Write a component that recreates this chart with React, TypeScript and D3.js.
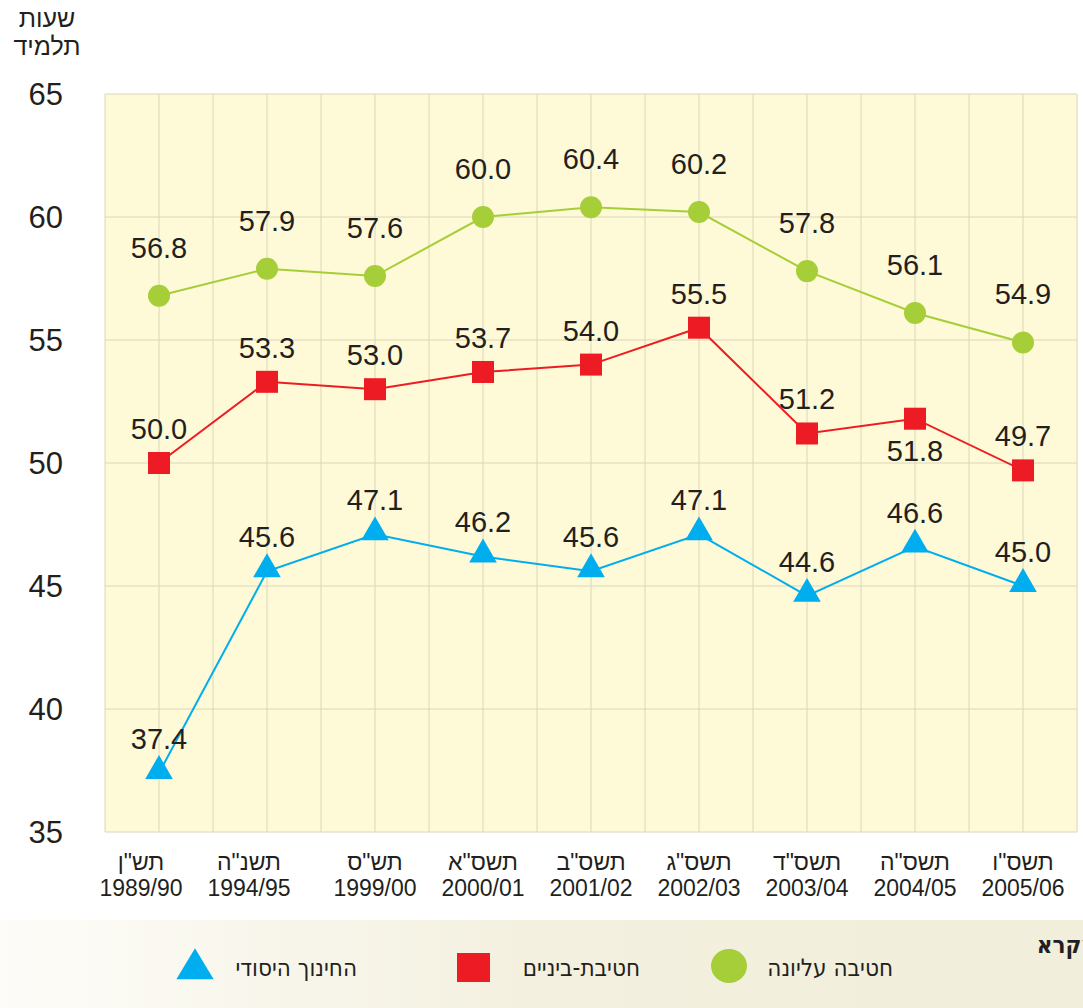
import React from 'react'
import * as d3 from 'd3'

const years = ['1989/90', '1994/95', '1999/00', '2000/01', '2001/02', '2002/03', '2003/04', '2004/05', '2005/06']
const hebYears = ['תש"ן', 'תשנ"ה', 'תש"ס', 'תשס"א', 'תשס"ב', 'תשס"ג', 'תשס"ד', 'תשס"ה', 'תשס"ו']

const upper = [56.8, 57.9, 57.6, 60.0, 60.4, 60.2, 57.8, 56.1, 54.9]
const middle = [50.0, 53.3, 53.0, 53.7, 54.0, 55.5, 51.2, 51.8, 49.7]
const primary = [37.4, 45.6, 47.1, 46.2, 45.6, 47.1, 44.6, 46.6, 45.0]

const yTicks = [35, 40, 45, 50, 55, 60, 65]

const W = 1083
const H = 1008
const left = 105
const right = 1077
const top = 94
const bottom = 832

const font = '"Liberation Sans", Arial, sans-serif'
const narrow = '"Liberation Sans Narrow", "DejaVu Sans Condensed", "Liberation Sans", sans-serif'
const ink = '#231f20'

const x = d3.scalePoint<string>().domain(years).range([left, right]).padding(0.5)
const y = d3.scaleLinear().domain([35, 65]).range([bottom, top])

// vertical grid every half step
const vGrid = d3.range(0, years.length * 2 + 1).map(i => left + (i * (right - left)) / (years.length * 2))

const line = d3.line<number>()
  .x((_, i) => x(years[i]) as number)
  .y(d => y(d))

const tri = d3.symbol().type(d3.symbolTriangle).size(330)

function App() {
  const series = [
    { name: 'upper', data: upper, color: '#a6ce39', dy: -38 },
    { name: 'middle', data: middle, color: '#ed1c24', dy: -24 },
    { name: 'primary', data: primary, color: '#00aeef', dy: -24 },
  ]

  return (
    <svg width={W} height={H} style={{ position: 'absolute', left: 0, top: 0, background: '#fff' }}>
      <defs>
        <linearGradient id="legbg" x1="0" x2="1" y1="0" y2="0">
          <stop offset="0" stopColor="#fdfcf8" />
          <stop offset="0.5" stopColor="#f3f0df" />
          <stop offset="1" stopColor="#f1eedb" />
        </linearGradient>
      </defs>

      <rect x={left} y={top} width={right - left} height={bottom - top} fill="#fef9d6" />
      {vGrid.map((gx, i) => (
        <line key={'v' + i} x1={gx} x2={gx} y1={top} y2={bottom} stroke="#dcd6b8" strokeWidth={1} />
      ))}
      {yTicks.map(t => (
        <line key={'h' + t} x1={left} x2={right} y1={y(t)} y2={y(t)} stroke="#dcd6b8" strokeWidth={1} />
      ))}

      {yTicks.map(t => (
        <text key={'yt' + t} x={63} y={y(t) + 11} textAnchor="end" fontFamily={font} fontSize={31} fill={ink}>{t}</text>
      ))}

      <text x={47} y={27} textAnchor="middle" fontFamily={font} fontSize={25} fill={ink}>שעות</text>
      <text x={47} y={55} textAnchor="middle" fontFamily={font} fontSize={25} fill={ink}>תלמיד</text>

      {years.map((yr, i) => {
        // first two labels sit a little left of their points in the original
        const cx = (x(yr) as number) - (i < 2 ? 18 : 0)
        return (
          <g key={yr}>
            <text x={cx} y={870} textAnchor="middle" fontFamily={font} fontSize={23} fill={ink}>{hebYears[i]}</text>
            <text x={cx} y={896} textAnchor="middle" fontFamily={font} fontSize={23} fill={ink}>{yr}</text>
          </g>
        )
      })}

      {series.map(s => (
        <path key={s.name} d={line(s.data) as string} fill="none" stroke={s.color} strokeWidth={2} />
      ))}

      {upper.map((v, i) => (
        <circle key={'c' + i} cx={x(years[i]) as number} cy={y(v)} r={11} fill="#a6ce39" />
      ))}
      {middle.map((v, i) => (
        <rect key={'s' + i} x={(x(years[i]) as number) - 11} y={y(v) - 11} width={22} height={22} fill="#ed1c24" />
      ))}
      {primary.map((v, i) => (
        <path key={'t' + i} d={tri() as string} transform={`translate(${x(years[i])},${y(v) - 2})`} fill="#00aeef" />
      ))}

      {series.map(s =>
        s.data.map((v, i) => {
          // 51.8 label sits below its marker
          const dy = s.name === 'middle' && i === 7 ? 42 : s.dy
          return (
            <text key={s.name + 'l' + i} x={x(years[i]) as number} y={y(v) + dy} textAnchor="middle"
              fontFamily={font} fontSize={29} fill={ink}>{v.toFixed(1)}</text>
          )
        })
      )}

      <rect x={0} y={920} width={W} height={H - 920} fill="url(#legbg)" />
      <path d={tri() as string} transform="translate(195,969) scale(1.35,1.3)" fill="#00aeef" />
      <text x={357} y={976} textAnchor="end" fontFamily={narrow} fontSize={24} fill={ink}>החינוך היסודי</text>
      <rect x={457} y={953} width={33} height={29} fill="#ed1c24" />
      <text x={640} y={976} textAnchor="end" fontFamily={narrow} fontSize={24} fill={ink}>חטיבת-ביניים</text>
      <ellipse cx={729} cy={966} rx={18} ry={17} fill="#a6ce39" />
      <text x={893} y={976} textAnchor="end" fontFamily={narrow} fontSize={24} fill={ink}>חטיבה עליונה</text>
      <text x={1097} y={953} textAnchor="end" fontFamily={narrow} fontSize={24} fontWeight="bold" fill={ink}>מקרא</text>
    </svg>
  )
}

export default App
